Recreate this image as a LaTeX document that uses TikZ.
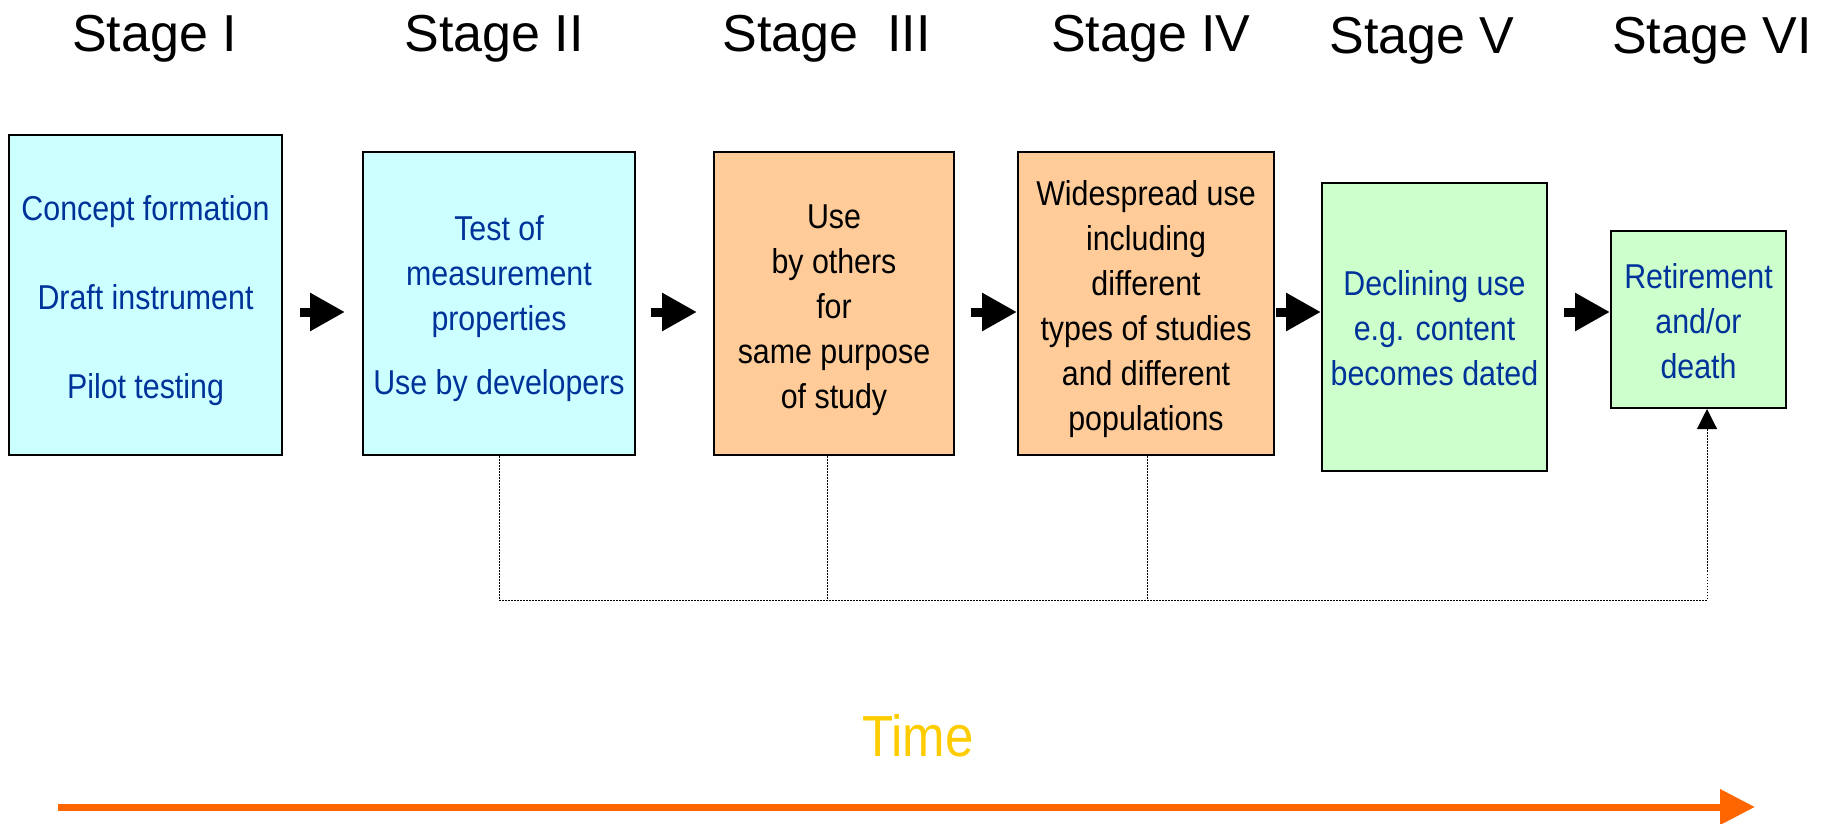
\documentclass[tikz,border=0pt]{standalone}
\usepackage{fontspec}
\setmainfont{Liberation Sans}
\newfontfamily\narrow[FakeStretch=0.88]{Liberation Sans}
\usetikzlibrary{arrows.meta,calc}
\definecolor{cyanfill}{HTML}{CCFFFF}
\definecolor{orangefill}{HTML}{FFCC99}
\definecolor{greenfill}{HTML}{CCFFCC}
\definecolor{bluetext}{HTML}{003399}
\definecolor{timecol}{HTML}{FFCC00}
\definecolor{timearrow}{HTML}{FF6600}
\tikzset{
  stagebox/.style={draw=black, line width=2pt, inner sep=0pt, align=center,
    font=\narrow\fontsize{34.5}{45}\selectfont},
  cyanbox/.style={stagebox, fill=cyanfill, text=bluetext},
  orangebox/.style={stagebox, fill=orangefill, text=black},
  greenbox/.style={stagebox, fill=greenfill, text=bluetext},
  title/.style={anchor=base, inner sep=0pt, font=\fontsize{52}{60}\selectfont},
  blockarrow/.style={line width=9pt, -{Triangle[length=35pt,width=36pt]}},
  dotline/.style={line width=1pt, dash pattern=on 1.5pt off 1.5pt},
}
\begin{document}
\begin{tikzpicture}[x=1pt,y=-1pt]
\useasboundingbox (0,0) rectangle (1829,824);

% titles
\node[title] (t1) at (154.6,52) {Stage I};
\node[title] (t2) at (494,52) {Stage II};
\node[title] (t3) at (826.5,52) {Stage\ \ III};
\node[title] (t4) at (1150.8,52) {Stage IV};
\node[title] (t5) at (1422,54) {Stage V};
\node[title] (t6) at (1712,54) {Stage VI};

% boxes
\node[cyanbox, minimum width=273pt, minimum height=320pt] (b1) at (145.5,295)
  {\rule{0pt}{37pt}Concept formation\\[44pt]Draft instrument\\[44pt]Pilot testing};
\node[cyanbox, minimum width=272pt, minimum height=303pt] (b2) at (499,303.5)
  {\rule{0pt}{36pt}Test of\\measurement\\properties\\[19pt]Use by developers};
\node[orangebox, minimum width=240pt, minimum height=303pt] (b3) at (834,303.5)
  {\rule{0pt}{37pt}Use\\by others\\for\\same purpose\\of study};
\node[orangebox, minimum width=256pt, minimum height=303pt] (b4) at (1146,303.5)
  {\rule{0pt}{36pt}Widespread use\\including\\different\\types of studies\\and different\\populations};
\node[greenbox, minimum width=225pt, minimum height=288pt] (b5) at (1434.5,327)
  {\rule{0pt}{28pt}Declining use\\e.g. content\\becomes dated};
\node[greenbox, minimum width=175pt, minimum height=177pt] (b6) at (1698.5,319.5)
  {\rule{0pt}{28pt}Retirement\\and/or\\death};

% block arrows between boxes
\coordinate (ay) at (0,312);
\draw[blockarrow] ([xshift=17pt]b1.east |- ay) -- ([xshift=-17pt]b2.west |- ay);
\draw[blockarrow] ([xshift=15pt]b2.east |- ay) -- ([xshift=-16pt]b3.west |- ay);
\draw[blockarrow] ([xshift=16pt]b3.east |- ay) -- (b4.west |- ay);
\draw[blockarrow] ([xshift=1pt]b4.east |- ay) -- (b5.west |- ay);
\draw[blockarrow] ([xshift=16pt]b5.east |- ay) -- (b6.west |- ay);

% dotted feedback lines
\coordinate (c6) at (1707,600);
\coordinate (c3) at ([xshift=-7pt]b3.south);
\coordinate (c4) at ([xshift=1pt]b4.south);
\draw[dotline, -{Triangle[length=20pt,width=20pt]}] (b2.south) |- (c6) -- (c6 |- b6.south);
\draw[dotline] (c3) -- (c3 |- c6);
\draw[dotline] (c4) -- (c4 |- c6);

% time
\node[anchor=base, inner sep=0pt, text=timecol, font=\narrow\fontsize{58}{64}\selectfont] (time) at (918,756) {Time};
\coordinate (ta) at (58,807);
\coordinate (tb) at (1755,807);
\draw[line width=7pt, draw=timearrow, -{Triangle[length=35pt,width=34pt]}] (ta) -- (tb);
\end{tikzpicture}
\end{document}
